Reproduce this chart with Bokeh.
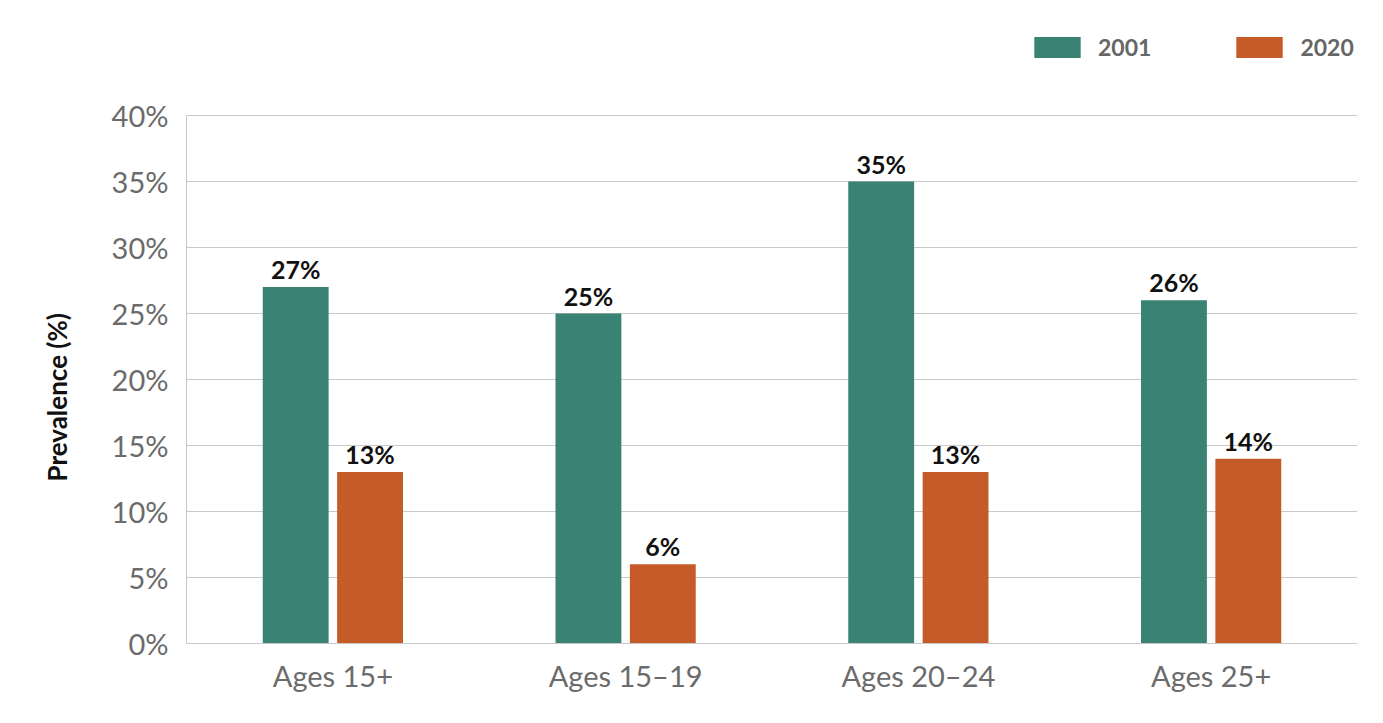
from bokeh.plotting import figure
from bokeh.models import ColumnDataSource, Legend, LegendItem, FactorRange, PrintfTickFormatter, FixedTicker, Title
from bokeh.transform import dodge
from bokeh.core.properties import value
from bokeh.embed import file_html
from bokeh.resources import INLINE

categories = ["Ages 15+", "Ages 15\u201319", "Ages 20\u201324", "Ages 25+"]
values_2001 = [27, 25, 35, 26]
values_2020 = [13, 6, 13, 14]
y_ticks = [0, 5, 10, 15, 20, 25, 30, 35, 40]

GREEN = "#3A8374"
ORANGE = "#C45B29"
FONT = "Lato"

# layout: frame from y=15 to y=643 (628 px); 40% must land at y=115
FRAME_TOP = 15
FRAME_BOTTOM = 643
AXIS_TOP_PX = 115
Y_MAX = 40 * (FRAME_BOTTOM - FRAME_TOP) / (FRAME_BOTTOM - AXIS_TOP_PX)

src = ColumnDataSource(dict(
    cat=categories,
    v1=values_2001,
    v2=values_2020,
    l1=[f"{v}%" for v in values_2001],
    l2=[f"{v}%" for v in values_2020],
))

p = figure(x_range=FactorRange(*categories, range_padding=0), y_range=(0, Y_MAX),
           width=1375, height=715, output_backend="svg", toolbar_location=None,
           min_border_left=186, min_border_right=18, min_border_top=FRAME_TOP, min_border_bottom=72)
p.outline_line_color = None

r1 = p.vbar(x=dodge("cat", -0.127, range=p.x_range), top="v1", width=0.225, source=src,
            fill_color=GREEN, line_color=None)
r2 = p.vbar(x=dodge("cat", 0.127, range=p.x_range), top="v2", width=0.225, source=src,
            fill_color=ORANGE, line_color=None)

for col, lab, off in (("v1", "l1", -0.127), ("v2", "l2", 0.127)):
    p.text(x=dodge("cat", off, range=p.x_range), y=col, text=lab, source=src,
           text_align="center", text_baseline="bottom", y_offset=-3,
           text_font=value(FONT), text_font_style="bold", text_font_size="25px",
           text_color="#111111")

p.xgrid.grid_line_color = None
p.ygrid.grid_line_color = "#C9C9C9"
p.ygrid.grid_line_width = 1

p.yaxis.ticker = FixedTicker(ticks=y_ticks)
p.yaxis.formatter = PrintfTickFormatter(format="%d%%")
p.yaxis.bounds = (0, 40)
for ax in (p.xaxis[0], p.yaxis[0]):
    ax.axis_line_color = "#C9C9C9"
    ax.axis_line_width = 1
    ax.major_tick_line_color = None
    ax.minor_tick_line_color = None
    ax.major_tick_out = 0
    ax.major_tick_in = 0
    ax.major_label_text_font = FONT
    ax.major_label_text_font_size = "29px"
    ax.major_label_text_color = "#6B6B6B"
p.yaxis.major_label_standoff = 18
p.xaxis.major_label_standoff = 14

# y-axis title, anchored to the 0% end so it sits beside the 0-40% part of the axis
ytitle = Title(text="Prevalence (%)", align="left", offset=162, standoff=72,
               text_font=FONT, text_font_style="bold", text_font_size="26px",
               text_color="#111111")
p.add_layout(ytitle, "left")

legend = Legend(items=[LegendItem(label="2001", renderers=[r1]),
                       LegendItem(label="2020", renderers=[r2])],
                orientation="horizontal", location=(842, FRAME_BOTTOM - 61),
                glyph_width=58, glyph_height=26, label_height=26,
                label_standoff=12, spacing=79, padding=0, margin=0,
                border_line_color=None, background_fill_alpha=0,
                label_text_font=FONT, label_text_font_style="bold",
                label_text_font_size="23px", label_text_color="#666666")
p.add_layout(legend, "center")

open("out.html", "w").write(file_html(p, INLINE))
